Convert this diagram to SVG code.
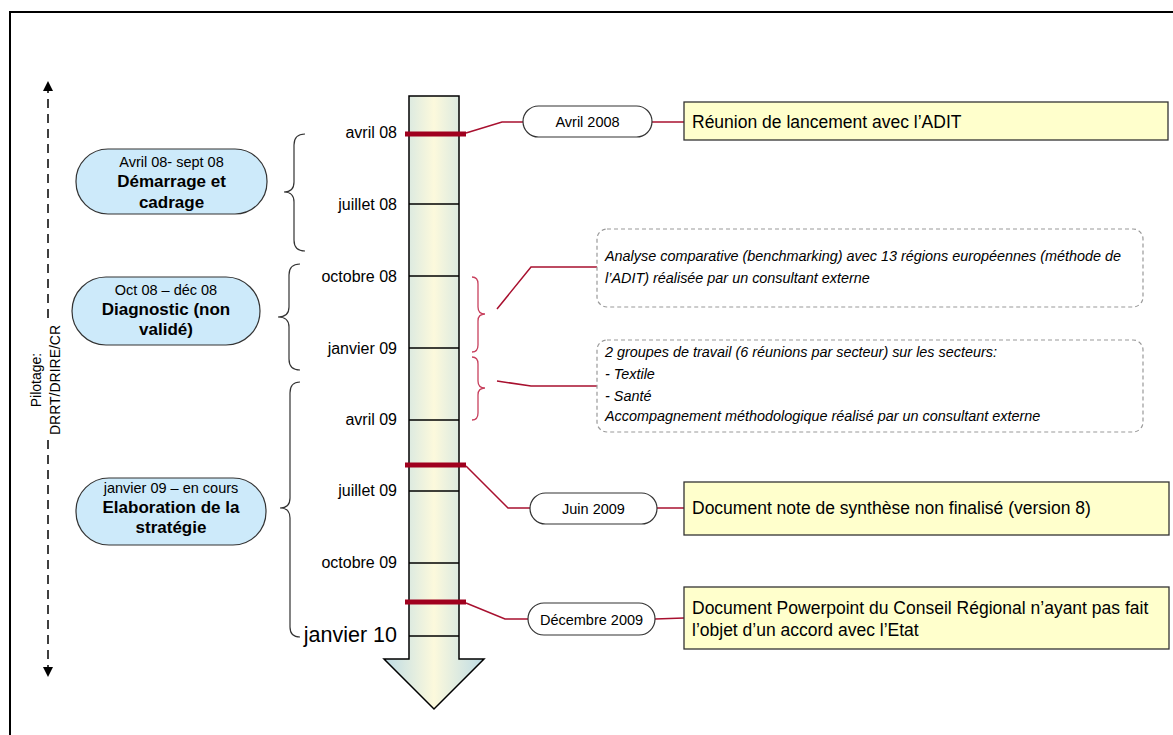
<svg xmlns="http://www.w3.org/2000/svg" width="1173" height="735" viewBox="0 0 1173 735">
<defs>
<linearGradient id="shaft" x1="0" y1="0" x2="1" y2="0">
<stop offset="0" stop-color="#bddbe5"/>
<stop offset="0.5" stop-color="#fcf9dc"/>
<stop offset="1" stop-color="#bddbe5"/>
</linearGradient>
<marker id="ah" viewBox="0 0 10 10" refX="5" refY="5" markerWidth="10" markerHeight="10" orient="auto" markerUnits="userSpaceOnUse">
<path d="M0,0 L10,5 L0,10 Z" fill="#000"/>
</marker>
<style>
text{font-family:"Liberation Sans",Arial,sans-serif;fill:#000}
.lbl{font-size:16px;text-anchor:end}
.big{font-size:21.5px}
.phase{fill:#cdeafa;stroke:#333;stroke-width:1.2}
.ps{font-size:14.5px;text-anchor:middle}
.pb{font-size:17px;font-weight:bold;text-anchor:middle}
.brace{fill:none;stroke:#333;stroke-width:1.2}
.rbrace{fill:none;stroke:#c8415e;stroke-width:1.3}
.conn{fill:none;stroke:#a8102f;stroke-width:1.5}
.bar{stroke:#a0001e;stroke-width:5}
.tick{stroke:#000;stroke-width:1.5}
.date{fill:#fff;stroke:#333;stroke-width:1.2}
.dt{font-size:14.5px;text-anchor:middle}
.note{fill:#ffffcc;stroke:#333;stroke-width:1.3}
.nt{font-size:17.5px}
.dash{fill:#fff;stroke:#999;stroke-width:1.2;stroke-dasharray:4 3}
.it{font-size:14.4px;font-style:italic}
</style>
</defs>
<rect width="1173" height="735" fill="#fff"/>
<g id="frame">
<path d="M10,735 L10,12 L1173,12" fill="none" stroke="#000" stroke-width="2"/>
</g>
<g id="pilotage">
<line x1="48" y1="318" x2="48" y2="86" stroke="#000" stroke-width="1.5" stroke-dasharray="9 6" marker-end="url(#ah)"/>
<line x1="48" y1="440" x2="48" y2="672" stroke="#000" stroke-width="1.5" stroke-dasharray="9 6" marker-end="url(#ah)"/>
<text transform="translate(41,380) rotate(-90)" font-size="14" text-anchor="middle">Pilotage:</text>
<text transform="translate(60,380) rotate(-90)" font-size="14" text-anchor="middle">DRRT/DRIRE/CR</text>
</g>
<g id="timeline">
<path d="M409,96 L459,96 L459,659 L484,659 L434,709 L384,659 L409,659 Z" fill="url(#shaft)" stroke="#000" stroke-width="1.5"/>
<line class="tick" x1="409" y1="204" x2="459" y2="204"/>
<line class="tick" x1="409" y1="276" x2="459" y2="276"/>
<line class="tick" x1="409" y1="348" x2="459" y2="348"/>
<line class="tick" x1="409" y1="420" x2="459" y2="420"/>
<line class="tick" x1="409" y1="491" x2="459" y2="491"/>
<line class="tick" x1="409" y1="563" x2="459" y2="563"/>
<line class="tick" x1="409" y1="636" x2="459" y2="636"/>
<line class="bar" x1="405" y1="134" x2="466" y2="134"/>
<line class="bar" x1="405" y1="465" x2="466" y2="465"/>
<line class="bar" x1="405" y1="602" x2="466" y2="602"/>
<text class="lbl" x="397" y="138">avril 08</text>
<text class="lbl" x="397" y="210">juillet 08</text>
<text class="lbl" x="397" y="282">octobre 08</text>
<text class="lbl" x="397" y="354">janvier 09</text>
<text class="lbl" x="397" y="425">avril 09</text>
<text class="lbl" x="397" y="496">juillet 09</text>
<text class="lbl" x="397" y="568">octobre 09</text>
<text class="lbl big" x="397" y="642">janvier 10</text>
</g>
<g id="phase1">
<rect class="phase" x="76" y="149" width="191" height="65" rx="32" ry="32"/>
<text class="ps" x="171.5" y="167">Avril 08- sept 08</text>
<text class="pb" x="171.5" y="187">Démarrage et</text>
<text class="pb" x="171.5" y="208">cadrage</text>
</g>
<g id="phase2">
<rect class="phase" x="72" y="277" width="188" height="68" rx="34" ry="34"/>
<text class="ps" x="166" y="295">Oct 08 – déc 08</text>
<text class="pb" x="166" y="315">Diagnostic (non</text>
<text class="pb" x="166" y="335">validé)</text>
</g>
<g id="phase3">
<rect class="phase" x="76" y="478" width="190" height="67" rx="33" ry="33"/>
<text class="ps" x="171" y="493">janvier 09 – en cours</text>
<text class="pb" x="171" y="513">Elaboration de la</text>
<text class="pb" x="171" y="533">stratégie</text>
</g>
<g id="braces">
<path class="brace" d="M305,134 Q294,134 294,145 L294,182 Q294,192 284,192 Q294,192 294,202 L294,240 Q294,251 305,251"/>
<path class="brace" d="M300,264 Q289,264 289,275 L289,307 Q289,317 278,317 Q289,317 289,327 L289,359 Q289,370 300,370"/>
<path class="brace" d="M300,382 Q290,382 290,393 L290,498 Q290,508 280,508 Q290,508 290,518 L290,627 Q290,637 300,637"/>
<path class="rbrace" d="M472,277 Q478,277 478,284 L478,307 Q478,314 485,314 Q478,314 478,321 L478,345 Q478,352 472,352"/>
<path class="rbrace" d="M472,357 Q478,357 478,364 L478,381 Q478,388 485,388 Q478,388 478,395 L478,413 Q478,420 472,420"/>
</g>
<g id="connectors">
<polyline class="conn" points="466,133 502,122 523,122"/>
<line class="conn" x1="652" y1="122" x2="684" y2="122"/>
<polyline class="conn" points="497,309 531,267 597,267"/>
<polyline class="conn" points="497,381 531,386 597,386"/>
<polyline class="conn" points="466,466 508,508 530,508"/>
<line class="conn" x1="657" y1="508" x2="684" y2="508"/>
<polyline class="conn" points="466,603 505,619 528,619"/>
<line class="conn" x1="655" y1="619" x2="684" y2="618"/>
</g>
<g id="date1">
<rect class="date" x="523" y="106" width="129" height="31" rx="15.5" ry="15.5"/>
<text class="dt" x="587.5" y="127">Avril 2008</text>
</g>
<g id="note1">
<rect class="note" x="684" y="102" width="484" height="38"/>
<text class="nt" x="692" y="128">Réunion de lancement avec l’ADIT</text>
</g>
<g id="bench">
<rect class="dash" x="597" y="229" width="546" height="78" rx="10" ry="10"/>
<text class="it" x="605" y="261">Analyse comparative (benchmarking) avec 13 régions européennes (méthode de</text>
<text class="it" x="605" y="283">l’ADIT) réalisée par un consultant externe</text>
</g>
<g id="groups">
<rect class="dash" x="597" y="340" width="546" height="92" rx="10" ry="10"/>
<text class="it" x="605" y="357">2 groupes de travail (6 réunions par secteur) sur les secteurs:</text>
<text class="it" x="605" y="379">- Textile</text>
<text class="it" x="605" y="401">- Santé</text>
<text class="it" x="605" y="421">Accompagnement méthodologique réalisé par un consultant externe</text>
</g>
<g id="date2">
<rect class="date" x="530" y="493" width="127" height="31" rx="15.5" ry="15.5"/>
<text class="dt" x="593.5" y="514">Juin 2009</text>
</g>
<g id="note2">
<rect class="note" x="684" y="482" width="485" height="53"/>
<text class="nt" x="692" y="514">Document note de synthèse non finalisé (version 8)</text>
</g>
<g id="date3">
<rect class="date" x="528" y="603" width="127" height="32" rx="16" ry="16"/>
<text class="dt" x="591.5" y="625">Décembre 2009</text>
</g>
<g id="note3">
<rect class="note" x="684" y="587" width="485" height="62"/>
<text class="nt" x="692" y="614">Document Powerpoint du Conseil Régional n’ayant pas fait</text>
<text class="nt" x="692" y="636">l’objet d’un accord avec l’Etat</text>
</g>
</svg>
